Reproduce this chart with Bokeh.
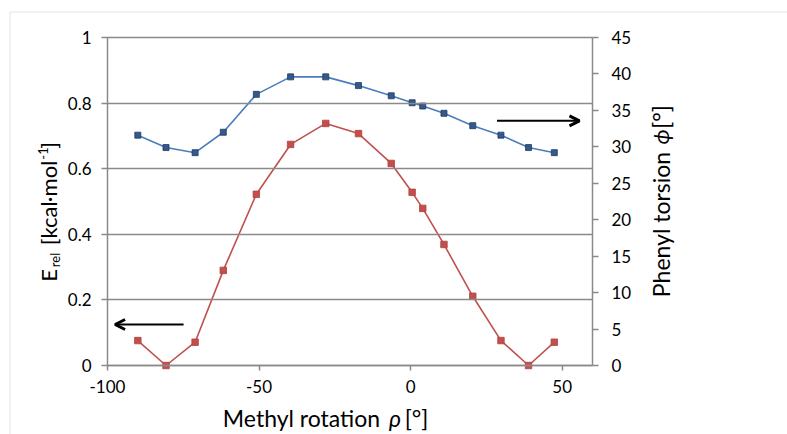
import math
from bokeh.plotting import figure
from bokeh.models import (Range1d, LinearAxis, FixedTicker, NumeralTickFormatter,
                          Label, Arrow, OpenHead, BoxAnnotation, ColumnDataSource)
from bokeh.embed import file_html
from bokeh.resources import INLINE

# ---- data ----
rho = [-90, -80.7, -71.1, -61.8, -50.9, -39.6, -28, -17.2, -6.4, 0.5, 4, 11, 20.5, 29.8, 38.9, 47.4]
e_rel = [0.076, 0.0, 0.071, 0.290, 0.522, 0.674, 0.738, 0.707, 0.616, 0.528, 0.479, 0.369, 0.211, 0.076, 0.0, 0.071]
phi = [31.6, 29.9, 29.2, 32.0, 37.2, 39.6, 39.6, 38.4, 37.0, 36.05, 35.6, 34.6, 32.9, 31.6, 29.9, 29.2]

x_ticks = [-100, -50, 0, 50]
e_ticks = [0, 0.2, 0.4, 0.6, 0.8, 1.0]
phi_ticks = [0, 5, 10, 15, 20, 25, 30, 35, 40, 45]

X_MIN, X_MAX = -100, 60
E_MIN, E_MAX = 0, 1
P_MIN, P_MAX = 0, 45

# ---- canvas layout (pixels) ----
W, H = 787, 434
PL, PR, PT, PB = 107, 592, 37, 365   # plot-area edges on the canvas

def extend(lo, hi, a, b, total):
    s = (hi - lo) / (b - a)
    return lo - a * s, hi + (total - b) * s

FONT = "Lato"
GRID = "#8a8a8a"

src = ColumnDataSource(dict(rho=rho, e=e_rel, phi=phi))

xr = Range1d(*extend(X_MIN, X_MAX, PL, PR, W))
yr0, yr1 = extend(E_MIN, E_MAX, H - PB, H - PT, H)
pr0, pr1 = extend(P_MIN, P_MAX, H - PB, H - PT, H)

p = figure(width=W, height=H, x_range=xr, y_range=Range1d(yr0, yr1),
           output_backend="svg", toolbar_location=None, min_border=0)
p.outline_line_color = None
p.background_fill_color = "white"
p.border_fill_color = "white"
p.extra_y_ranges = {"phi": Range1d(pr0, pr1)}

# outer chart border
p.add_layout(BoxAnnotation(left=9.5, right=900, top=11.5, bottom=600,
                           left_units="canvas", right_units="canvas",
                           top_units="canvas", bottom_units="canvas",
                           fill_color=None, fill_alpha=0, line_color="#a0a0a0",
                           line_width=1, level="underlay"))

def style_axis(ax, tick_out, standoff):
    ax.axis_line_color = GRID
    ax.axis_line_width = 1.5
    ax.major_tick_line_color = GRID
    ax.major_tick_line_width = 1.5
    ax.major_tick_out = tick_out
    ax.major_tick_in = 0
    ax.minor_tick_line_color = None
    ax.major_label_text_font = FONT
    ax.major_label_text_font_size = "17px"
    ax.major_label_text_color = "black"
    ax.major_label_standoff = standoff

xa = p.xaxis[0]
xa.ticker = FixedTicker(ticks=x_ticks)
xa.formatter = NumeralTickFormatter(format="0")
xa.fixed_location = E_MIN
xa.bounds = (X_MIN, X_MAX)
style_axis(xa, 5, 9)

ya = p.yaxis[0]
ya.ticker = FixedTicker(ticks=e_ticks)
ya.formatter = NumeralTickFormatter(format="0.[0]")
ya.fixed_location = X_MIN
ya.bounds = (E_MIN, E_MAX)
style_axis(ya, 6, 10)
ya.major_tick_in = PR - PL          # horizontal gridlines across the plot area only

ra = LinearAxis(y_range_name="phi", ticker=FixedTicker(ticks=phi_ticks),
                fixed_location=X_MAX, bounds=(P_MIN, P_MAX))
style_axis(ra, 6, 13)
p.add_layout(ra, "right")

p.xgrid.grid_line_color = None
p.ygrid.grid_line_color = None

# series
p.line("rho", "e", source=src, line_color="#c0504d", line_width=1.6)
p.scatter("rho", "e", source=src, marker="square", size=6.5,
          fill_color="#c0504d", line_color="#b4413e", line_width=0.8)
p.line("rho", "phi", source=src, y_range_name="phi", line_color="#4a7ebb", line_width=1.6)
p.scatter("rho", "phi", source=src, y_range_name="phi", marker="square", size=6,
          fill_color="#34598a", line_color="#1f3b63", line_width=0.8)

# arrows
p.add_layout(Arrow(end=OpenHead(size=10, line_width=3, line_color="black"),
                   x_start=-74.9, y_start=0.125, x_end=-97.5, y_end=0.125,
                   line_width=2, line_color="black"))
p.add_layout(Arrow(end=OpenHead(size=10, line_width=3, line_color="black"),
                   x_start=28.5, y_start=0.746, x_end=55.7, y_end=0.746,
                   line_width=2, line_color="black"))

def lab(text, x, y, size, angle=0.0, style="normal"):
    p.add_layout(Label(text=text, x=x, y=y, x_units="canvas", y_units="canvas",
                       angle=angle, text_align="center", text_baseline="middle",
                       text_font=FONT, text_font_size=size, text_color="black",
                       text_font_style=style))

# x-axis title
lab("Methyl rotation", 301, 417, "23px")
lab("\u03c1", 394.5, 417, "23px", style="italic")
lab("[\u00b0]", 416, 417, "23px")

# left axis title (rotated)
A = math.pi / 2
lab("E", 48, 275, "22px", angle=A)
lab("rel", 54, 259.5, "13px", angle=A)
lab("[kcal\u00b7mol", 48, 202.5, "22px", angle=A)
lab("-1", 42, 153, "13px", angle=A)
lab("]", 48, 145, "22px", angle=A)

# right axis title (rotated)
lab("Phenyl torsion", 660, 224, "23px", angle=A)
lab("\u03d5", 660, 136.5, "22px", angle=A, style="italic")
lab("[\u00b0]", 660, 116.5, "23px", angle=A)

open("out.html", "w").write(file_html(p, INLINE))
